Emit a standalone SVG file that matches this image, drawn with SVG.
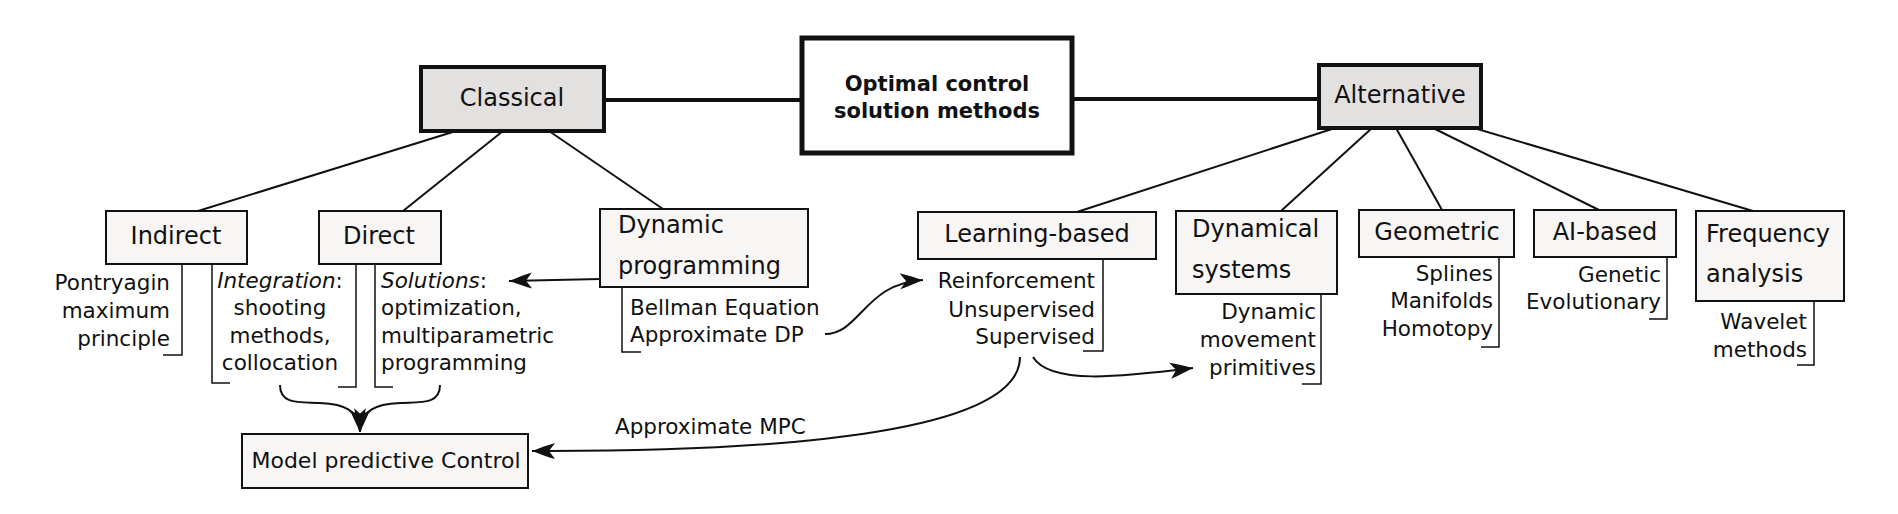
<svg xmlns="http://www.w3.org/2000/svg" width="1898" height="514" viewBox="0 0 1898 514">
<style>
text{font-family:"DejaVu Sans","Liberation Sans",sans-serif;fill:#111}
.t{font-size:24px}
.l{font-size:21.5px}
.box{fill:#f8f5f5;stroke:#111;stroke-width:2}
.gray{fill:#e3e0e0;stroke:#111;stroke-width:4}
.ln{stroke:#111;stroke-width:2;fill:none}
.thick{stroke:#111;stroke-width:4;fill:none}
.br{stroke:#111;stroke-width:1.5;fill:none}
.arr{stroke:#111;stroke-width:2;fill:none;marker-end:url(#ah)}
.m{text-anchor:middle}
.e{text-anchor:end}
</style>
<defs>
<marker id="ah" markerUnits="userSpaceOnUse" markerWidth="26" markerHeight="18" viewBox="0 0 26 18" refX="24" refY="9" orient="auto">
<path d="M24,9 C16,6 8,3 1,1 L7,9 L1,17 C8,15 16,12 24,9 Z" fill="#111"/>
</marker>
</defs>
<rect width="1898" height="514" fill="#fff"/>
<g id="connectors">
<path class="thick" d="M604,100 H802"/>
<path class="thick" d="M1072,99 H1319"/>
<path class="ln" d="M456,131 L198,211"/>
<path class="ln" d="M503,131 L403,211"/>
<path class="ln" d="M549,131 L663,209"/>
<path class="ln" d="M1335,128 L1077,212"/>
<path class="ln" d="M1372,128 L1281,211"/>
<path class="ln" d="M1396,128 L1442,210"/>
<path class="ln" d="M1433,128 L1599,210"/>
<path class="ln" d="M1474,128 L1753,211"/>
<path class="br" d="M182,264 V355 H163"/>
<path class="br" d="M212,264 V383 H230"/>
<path class="br" d="M356,264 V387 H338"/>
<path class="br" d="M375,264 V387 H393"/>
<path class="br" d="M622,287 V352 H641"/>
<path class="br" d="M1103,259 V351 H1083"/>
<path class="br" d="M1321,294 V384 H1302"/>
<path class="br" d="M1499,257 V347 H1481"/>
<path class="br" d="M1667,257 V319 H1649"/>
<path class="br" d="M1814,301 V365 H1797"/>
<path class="arr" d="M600,279 L509,281"/>
<path class="arr" d="M825,334 C860,334 865,283 923,280"/>
<path class="arr" d="M1033,357 C1050,385 1120,377 1193,368"/>
<path class="arr" d="M1020,357 C1020,430 800,452 532,451"/>
<path class="arr" d="M280,385 C280,405 300,402 320,403 C345,404 358,410 360,432"/>
<path class="arr" d="M440,385 C440,405 420,402 400,403 C375,404 362,410 360,432"/>
<text class="l" x="615" y="434">Approximate MPC</text>
</g>
<g id="optimal">
<rect x="802" y="38" width="270" height="115" fill="#fff" stroke="#111" stroke-width="5"/>
<text class="m" x="937" y="91" font-size="21" font-weight="bold">Optimal control</text>
<text class="m" x="937" y="118" font-size="21" font-weight="bold">solution methods</text>
</g>
<g id="classical">
<rect class="gray" x="421" y="67" width="183" height="64"/>
<text class="t m" x="512" y="106">Classical</text>
</g>
<g id="alternative">
<rect class="gray" x="1319" y="65" width="162" height="63"/>
<text class="t m" x="1400" y="103">Alternative</text>
</g>
<g id="indirect">
<rect class="box" x="106" y="211" width="141" height="53"/>
<text class="t m" x="176" y="244">Indirect</text>
<text class="l e" x="170" y="290">Pontryagin</text>
<text class="l e" x="170" y="318">maximum</text>
<text class="l e" x="170" y="346">principle</text>
<text class="l m" x="280" y="288"><tspan font-style="italic">Integration</tspan>:</text>
<text class="l m" x="280" y="315">shooting</text>
<text class="l m" x="280" y="343">methods,</text>
<text class="l m" x="280" y="370">collocation</text>
</g>
<g id="direct">
<rect class="box" x="319" y="211" width="122" height="53"/>
<text class="t m" x="379" y="244">Direct</text>
<text class="l" x="381" y="288"><tspan font-style="italic">Solutions</tspan>:</text>
<text class="l" x="381" y="315">optimization,</text>
<text class="l" x="381" y="343">multiparametric</text>
<text class="l" x="381" y="370">programming</text>
</g>
<g id="dynprog">
<rect class="box" x="600" y="209" width="208" height="78"/>
<text class="t" x="618" y="233">Dynamic</text>
<text class="t" x="618" y="274">programming</text>
<text class="l" x="630" y="315">Bellman Equation</text>
<text class="l" x="630" y="342">Approximate DP</text>
</g>
<g id="mpc">
<rect class="box" x="242" y="434" width="286" height="54"/>
<text class="m" x="386" y="468" font-size="22">Model predictive Control</text>
</g>
<g id="learning">
<rect class="box" x="918" y="212" width="238" height="47"/>
<text class="t m" x="1037" y="242">Learning-based</text>
<text class="l e" x="1095" y="288">Reinforcement</text>
<text class="l e" x="1095" y="317">Unsupervised</text>
<text class="l e" x="1095" y="344">Supervised</text>
</g>
<g id="dynsys">
<rect class="box" x="1176" y="211" width="161" height="83"/>
<text class="t" x="1192" y="237">Dynamical</text>
<text class="t" x="1192" y="278">systems</text>
<text class="l e" x="1316" y="319">Dynamic</text>
<text class="l e" x="1316" y="347">movement</text>
<text class="l e" x="1316" y="375">primitives</text>
</g>
<g id="geometric">
<rect class="box" x="1359" y="210" width="155" height="47" stroke-width="2.5"/>
<text class="t m" x="1437" y="240">Geometric</text>
<text class="l e" x="1493" y="281">Splines</text>
<text class="l e" x="1493" y="308">Manifolds</text>
<text class="l e" x="1493" y="336">Homotopy</text>
</g>
<g id="ai">
<rect class="box" x="1534" y="210" width="142" height="47"/>
<text class="t m" x="1605" y="240">AI-based</text>
<text class="l e" x="1661" y="282">Genetic</text>
<text class="l e" x="1661" y="309">Evolutionary</text>
</g>
<g id="frequency">
<rect class="box" x="1696" y="211" width="148" height="90"/>
<text class="t" x="1706" y="242">Frequency</text>
<text class="t" x="1706" y="282">analysis</text>
<text class="l e" x="1807" y="329">Wavelet</text>
<text class="l e" x="1807" y="357">methods</text>
</g>
</svg>
